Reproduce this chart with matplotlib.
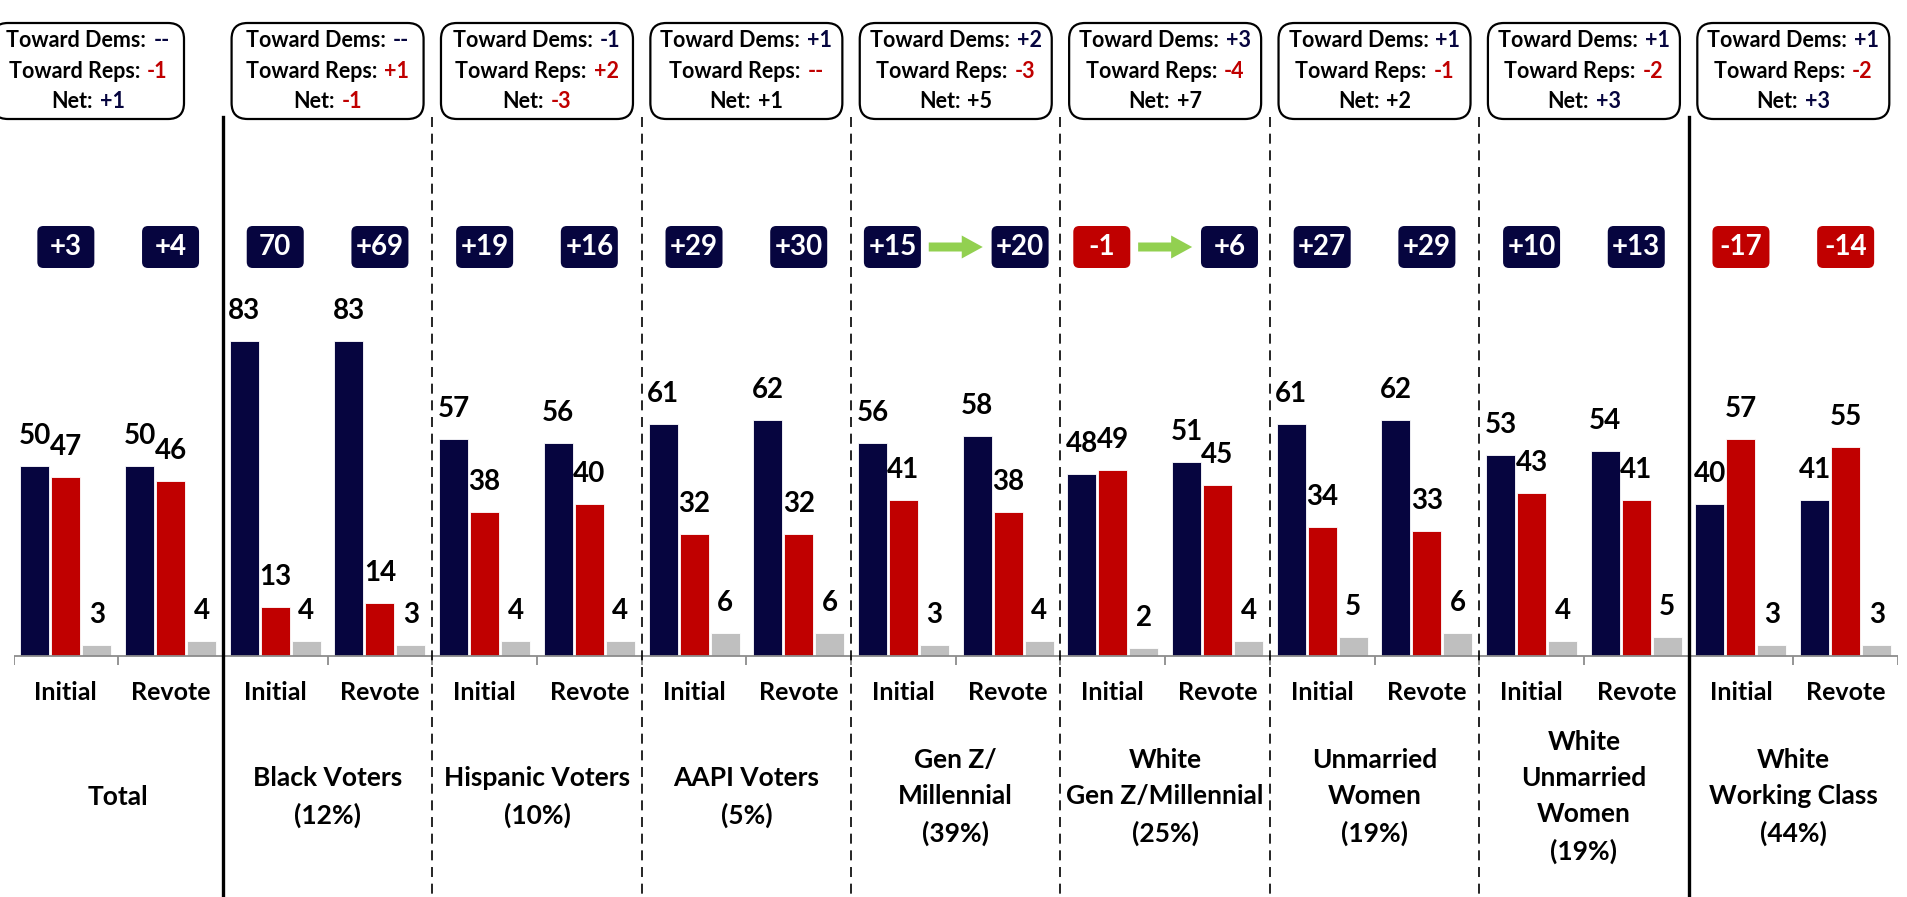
import numpy as np
import matplotlib.pyplot as plt
from matplotlib.patches import FancyBboxPatch, FancyArrow
from matplotlib.offsetbox import TextArea, HPacker, VPacker, AnnotationBbox

plt.rcParams['font.family'] = ['Lato', 'DejaVu Sans']
plt.rcParams['font.weight'] = 'bold'

# ---- data ----
groups = ['Total', 'Black Voters\n(12%)', 'Hispanic Voters\n(10%)', 'AAPI Voters\n(5%)',
          'Gen Z/\nMillennial\n(39%)', 'White\nGen Z/Millennial\n(25%)',
          'Unmarried\nWomen\n(19%)', 'White\nUnmarried\nWomen\n(19%)',
          'White\nWorking Class\n(44%)']
rounds = ['Initial', 'Revote']
dem = [50, 50, 83, 83, 57, 56, 61, 62, 56, 58, 48, 51, 61, 62, 53, 54, 40, 41]
rep = [47, 46, 13, 14, 38, 40, 32, 32, 41, 38, 49, 45, 34, 33, 43, 41, 57, 55]
other = [3, 4, 4, 3, 4, 4, 6, 6, 3, 4, 2, 4, 5, 6, 4, 5, 3, 3]
margin = ['+3', '+4', '70', '+69', '+19', '+16', '+29', '+30', '+15', '+20',
          '-1', '+6', '+27', '+29', '+10', '+13', '-17', '-14']
toward_dems = ['--', '--', '-1', '+1', '+2', '+3', '+1', '+1', '+1']
toward_reps = ['-1', '+1', '+2', '--', '-3', '-4', '-1', '-2', '-2']
net = ['+1', '-1', '-3', '+1', '+5', '+7', '+2', '+3', '+3']
arrow_groups = [4, 5]
solid_after = [0, 7]

NAVY = '#06053F'
RED = '#C00000'
GRAY = '#BFBFBF'
GREEN = '#92D050'
net_color = [NAVY, RED, RED, 'black', 'black', 'black', 'black', NAVY, NAVY]

# ---- layout (pixels of the 1907x897 canvas) ----
W, H = 1907, 897
x0_px, x1_px = 13.5, 1898
base_px, ppu = 656, 3.8
n = len(dem)
px_x = (x1_px - x0_px) / n

fig = plt.figure(figsize=(W / 100, H / 100), dpi=100)
ax = fig.add_axes([x0_px / W, 0, (x1_px - x0_px) / W, 1])
ax.set_xlim(-0.5, n - 0.5)
ax.set_ylim(-(H - base_px) / ppu, base_px / ppu)
ax.axis('off')


def py(p):
    return (base_px - p) / ppu


def dx(p):
    return p / px_x


def dy(p):
    return p / ppu


x = np.arange(n)
bw = dx(29)
off = dx(31)
for vals, col, shift in [(dem, NAVY, -off), (rep, RED, 0), (other, GRAY, off)]:
    ax.bar(x + shift, vals, bw, color=col, edgecolor='white', linewidth=0.6)
    for xi, v in zip(x + shift, vals):
        ax.text(xi, v + dy(22), str(v), ha='center', va='baseline', fontsize=20)

# baseline and ticks
ax.plot([-0.5, n - 0.5], [0, 0], color='#8C8C8C', lw=1.3, solid_capstyle='butt')
ax.vlines(np.arange(-0.5, n), dy(-9), 0, color='#8C8C8C', lw=1.3)

# x labels
for i in range(n):
    ax.text(i, py(692), rounds[i % 2], ha='center', va='center', fontsize=18)
for g, lab in enumerate(groups):
    ax.text(2 * g + 0.5, py(797), lab, ha='center', va='center', fontsize=19,
            linespacing=1.6)

# separators
for g in range(len(groups) - 1):
    b = 2 * g + 1.5
    if g in solid_after:
        ax.plot([b, b], [py(117), py(H)], color='black', lw=2.4)
    else:
        ax.plot([b, b], [py(117), py(H)], color='black', lw=1.2, dashes=(6, 4))

# margin badges
asp = px_x / ppu
yb = py(247)
for i, m in enumerate(margin):
    col = RED if m.startswith('-') else NAVY
    cx = i
    if i // 2 in arrow_groups:
        cx += dx(-11) if i % 2 == 0 else dx(12)
    w, h = dx(57), dy(42)
    ax.add_patch(FancyBboxPatch((cx - w / 2, yb - h / 2), w, h,
                                boxstyle='round,pad=0,rounding_size=%f' % dx(6),
                                mutation_aspect=asp, fc=col, ec='none'))
    ax.text(cx, yb, m, ha='center', va='center', color='white', fontsize=20)

for g in arrow_groups:
    c = 2 * g + 0.5
    ax.add_patch(FancyArrow(c - dx(27), yb, dx(54), 0, width=dy(9), head_width=dy(23),
                            head_length=dx(21), length_includes_head=True,
                            color=GREEN, ec='none'))

# shift boxes
bwid, bhgt = dx(192), dy(96)
bcy = py(71)
for g in range(len(groups)):
    c = 2 * g + 0.5
    if g == 0:
        c = -0.5 - dx(21.5) + bwid / 2
    ax.add_patch(FancyBboxPatch((c - bwid / 2, bcy - bhgt / 2), bwid, bhgt,
                                boxstyle='round,pad=0,rounding_size=%f' % dx(16),
                                mutation_aspect=asp, fc='white', ec='black', lw=1.6,
                                clip_on=False))
    rows = []
    for lab, val, col in [('Toward Dems:', toward_dems[g], NAVY),
                          ('Toward Reps:', toward_reps[g], RED),
                          ('Net:', net[g], net_color[g])]:
        tp = dict(fontsize=15.5, fontweight='bold')
        rows.append(HPacker(children=[TextArea(lab, textprops=dict(color='black', **tp)),
                                      TextArea(val, textprops=dict(color=col, **tp))],
                            align='baseline', pad=0, sep=5))
    pack = VPacker(children=rows, align='center', pad=0, sep=6.5)
    ax.add_artist(AnnotationBbox(pack, (c, bcy), frameon=False, box_alignment=(0.5, 0.5),
                                 annotation_clip=False))

fig.savefig('out.png', dpi=100, facecolor='white')
